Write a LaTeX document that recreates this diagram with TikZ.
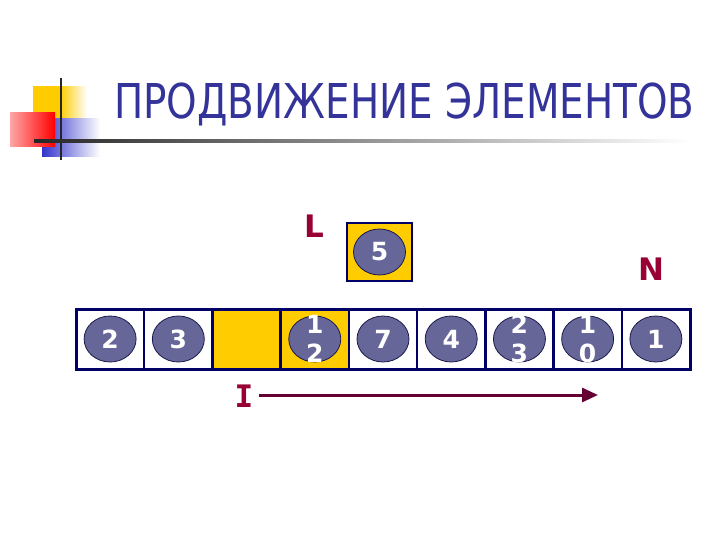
\documentclass[tikz,border=0pt]{standalone}
\usepackage{fontspec}
\setmainfont{DejaVu Sans}
\newfontfamily\monof{DejaVu Sans Mono}
\usetikzlibrary{arrows.meta,shapes.geometric}
\definecolor{titleblue}{HTML}{333399}
\definecolor{navy}{HTML}{000066}
\definecolor{gold}{HTML}{FFCC00}
\definecolor{ballfill}{HTML}{666699}
\definecolor{ballline}{HTML}{1A1A4D}
\definecolor{maroon}{HTML}{990033}
\definecolor{arrowc}{HTML}{660033}
\definecolor{logoblue}{HTML}{3333CC}
\tikzset{
  cell/.style={draw=navy, line width=2.5pt, minimum width=68.2pt, minimum height=60pt, inner sep=0pt, anchor=center},
  ball/.style={ellipse, draw=ballline, line width=0.8pt, fill=ballfill, minimum width=52pt, minimum height=46pt, inner sep=0pt},
  num/.style={text=white, font=\bfseries\fontsize{25}{29}\selectfont, align=center, inner sep=0pt},
  lbl/.style={text=maroon, font=\bfseries\fontsize{31}{34}\selectfont}
}
\begin{document}
\begin{tikzpicture}[x=1pt,y=-1pt]
\useasboundingbox (0,0) rectangle (720,540);
% logo
\shade[left color=gold, right color=white, middle color=gold] (33,87) rectangle (87,129);
\fill[gold] (33,87) rectangle (58,129);
\shade[left color=logoblue, right color=white] (42,119) rectangle (100,157);
\shade[left color=red!35, right color=red] (10,113) rectangle (55,147);
\draw[black!85, line width=2.5pt] (61,78) -- (61,160);
\shade[left color=black!85, right color=white] (34,139.8) rectangle (690,142.4);
% title
\node[text=titleblue, font=\fontsize{48}{54}\selectfont, anchor=base west, inner sep=0pt] (title) at (114,119) {\scalebox{0.81}[1]{ПРОДВИЖЕНИЕ ЭЛЕМЕНТОВ}};
% array
\foreach \i/\f in {0/white,1/white,2/gold,3/gold,4/white,5/white,6/white,7/white,8/white}{
  \node[cell, fill=\f] (c\i) at ({76+68.22*(\i+0.5)},339) {};
}
\draw[navy, line width=3pt] (76,309) rectangle (690,369);
\foreach \i/\t in {0/2,1/3,3/{1\\2},4/7,5/4,6/{2\\3},7/{1\\0},8/1}{
  \node[ball] (b\i) at (c\i) {};
  \node[num] at (c\i) {\t};
}
% single box
\node[cell, fill=gold, minimum width=65pt, minimum height=58pt] (box) at (379.5,252) {};
\node[ball] (b5) at (box) {};
\node[num] at (box) {5};
% labels
\node[lbl] (L) at (314,226) {L};
\node[lbl] (N) at (651,269) {N};
\node[lbl, font=\monof\bfseries\fontsize{31}{34}\selectfont] (I) at (244,396) {I};
\coordinate (aend) at (598,395);
\draw[arrowc, line width=3pt, -{Triangle[length=16pt,width=14pt]}] (I.east) ++(2,-1) -- (aend);
\end{tikzpicture}
\end{document}
